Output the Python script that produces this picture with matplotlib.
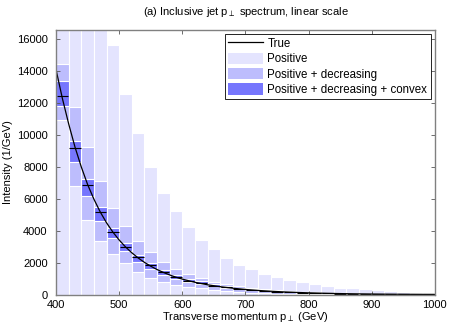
import numpy as np
import matplotlib.pyplot as plt

# bins of 20 GeV from 400 to 1000
bin_edges = list(range(400, 1001, 20))

# "Positive" band upper bound (lower bound is 0)
pos_hi = [20000, 19000, 18000, 17000, 15670, 12600, 10130, 7990, 6360, 5230,
          4230, 3420, 2830, 2320, 1860, 1590, 1300, 1110, 900, 780,
          650, 545, 440, 400, 340, 275, 215, 150, 100, 50]

# "Positive + decreasing" band
dec_lo = [10960, 6820, 4690, 3370, 2535, 1970, 1443, 1067, 797, 609,
          464, 400, 300, 232, 150, 100, 80, 60, 45, 35,
          28, 22, 17, 13, 10, 8, 6, 4, 3, 2]
dec_hi = [14460, 11760, 9224, 7091, 5440, 4311, 3389, 2660, 2033, 1631,
          1299, 1060, 816, 653, 546, 440, 358, 290, 235, 190,
          155, 125, 100, 82, 66, 54, 44, 36, 29, 23]

# "Positive + decreasing + convex" band
cvx_lo = [11850, 8283, 6193, 4644, 3539, 2742, 2071, 1594, 1255, 966,
          797, 690, 540, 420, 340, 275, 225, 185, 150, 120,
          97, 78, 63, 50, 40, 32, 25, 19, 14, 10]
cvx_hi = [13360, 9650, 7260, 5522, 4166, 3263, 2491, 1970, 1550, 1217,
          1004, 830, 650, 510, 415, 340, 280, 230, 190, 155,
          125, 100, 82, 66, 53, 43, 34, 27, 21, 16]

# true bin averages (short black marks)
true_bin = [12425, 9200, 6840, 5170, 3915, 3012, 2347, 1845, 1424, 1092,
            880, 700, 560, 450, 365, 295, 238, 193, 156, 126,
            101, 81, 64, 51, 40, 31, 24, 18, 14, 10]

# true spectrum
true_pt = [400, 410, 420, 430, 440, 450, 460, 470, 480, 490, 500, 510, 520, 530,
           540, 550, 560, 570, 580, 590, 600, 620, 640, 660, 680, 700, 720, 740,
           760, 780, 800, 820, 840, 860, 880, 900, 920, 940, 960, 980, 1000]
true_val = [14100, 12300, 10700, 9250, 8000, 6900, 5980, 5180, 4500, 3920, 3420,
            2990, 2620, 2300, 2020, 1780, 1570, 1390, 1230, 1090, 970, 770, 615,
            495, 400, 322, 260, 210, 170, 137, 110, 88, 70, 56, 44, 35, 27, 21,
            16, 12, 9]

plt.rcParams['font.family'] = ['Liberation Sans', 'DejaVu Sans']

fig = plt.figure(figsize=(4.52, 3.31), dpi=100)
ax = fig.add_axes([0.124, 0.110, 0.838, 0.800])

left = np.array(bin_edges[:-1])
width = 20
pos_hi = np.array(pos_hi)
dec_lo, dec_hi = np.array(dec_lo), np.array(dec_hi)
cvx_lo, cvx_hi = np.array(cvx_lo), np.array(cvx_hi)

c_pos = '#e4e4fe'
c_dec = '#bdbdfd'
c_cvx = '#7676fd'

ax.bar(left, pos_hi, width=width, align='edge', color=c_pos,
       edgecolor='white', linewidth=0.8, label='Positive')
ax.bar(left, dec_hi - dec_lo, bottom=dec_lo, width=width, align='edge',
       color=c_dec, edgecolor='white', linewidth=0.8, label='Positive + decreasing')
ax.bar(left, cvx_hi - cvx_lo, bottom=cvx_lo, width=width, align='edge',
       color=c_cvx, edgecolor='white', linewidth=0.8,
       label='Positive + decreasing + convex')
ax.hlines(true_bin, left + 1, left + width - 1, colors='k', linewidth=0.8)
line, = ax.plot(true_pt, true_val, color='k', linewidth=0.9, label='True')

ax.set_xlim(400, 1000)
ax.set_ylim(0, 16600)
ax.set_xticks(range(400, 1001, 100))
ax.set_yticks(range(0, 16001, 2000))
ax.tick_params(direction='in', top=True, right=True, labelsize=8,
               length=3, width=0.6, color='#555555')
ax.tick_params(axis='x', pad=4)
ax.tick_params(axis='y', pad=6)
for s in ax.spines.values():
    s.set_color('#808080')
    s.set_linewidth(1.0)

ax.set_xlabel('Transverse momentum p$_\\perp$ (GeV)', fontsize=8, labelpad=0)
ax.set_ylabel('Intensity (1/GeV)', fontsize=8, labelpad=3)
ax.set_title('(a) Inclusive jet p$_\\perp$ spectrum, linear scale', fontsize=8, pad=11)

handles, labels = ax.get_legend_handles_labels()
order = [labels.index(l) for l in ['True', 'Positive', 'Positive + decreasing',
                                    'Positive + decreasing + convex']]
leg = ax.legend([handles[i] for i in order], [labels[i] for i in order],
                loc='upper right', bbox_to_anchor=(0.989, 0.984), borderaxespad=0,
                fontsize=8.3, fancybox=False, framealpha=1, edgecolor='black',
                handlelength=3.0, handleheight=1.1, labelspacing=0.25,
                borderpad=0.3, handletextpad=0.4)
leg.get_frame().set_linewidth(0.6)
for p in leg.get_patches():
    p.set_edgecolor('none')

fig.savefig('out.png', dpi=100)
